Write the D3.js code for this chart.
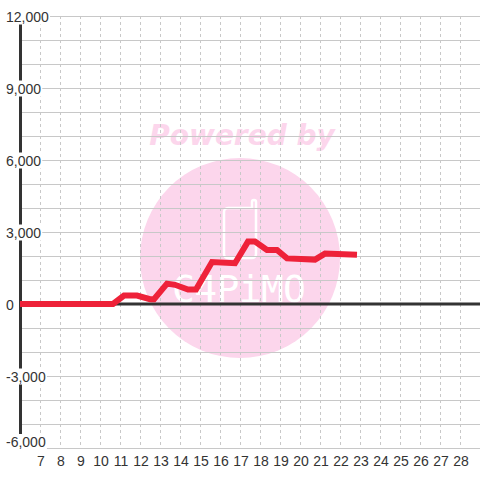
<!DOCTYPE html>
<html>
<head>
<meta charset="utf-8">
<script src="https://cdn.jsdelivr.net/npm/d3@7"></script>
<style>
  body { margin: 0; background: #fff; }
  text { font-family: "Liberation Sans", Arial, sans-serif; }
</style>
</head>
<body>
<div id="chart"></div>
<script>
// series: day position (fractional) and value
var days = [6, 10.65, 11.2, 11.85, 12.5, 12.7, 13.35, 13.75, 14.4, 14.8, 15.6, 16.75, 17.4, 17.75, 18.35, 18.85, 19.35, 20.75, 21.25, 22.85];
var values = [0, 0, 350, 350, 200, 200, 850, 800, 600, 600, 1750, 1700, 2600, 2600, 2250, 2250, 1900, 1850, 2100, 2050];

// ticks
var xTicks = d3.range(7, 29);            // 7..28 labelled
var xGrid = d3.range(7, 30);             // dashed grid up to right edge
var yTicks = [12000, 9000, 6000, 3000, 0, -3000, -6000];
var yGrid = d3.range(-6000, 12001, 1000);

var width = 480, height = 480;

var svg = d3.select("#chart").append("svg")
  .attr("width", width)
  .attr("height", height);

var x = d3.scaleLinear().domain([6, 29]).range([20, 480]);
var y = d3.scaleLinear().domain([-6000, 12000]).range([448, 16]);

//watermark
var wm = svg.append("g");
wm.append("circle")
  .attr("cx", 240).attr("cy", 258).attr("r", 100)
  .attr("fill", "#fcd6ec");
wm.append("text")
  .attr("x", 242).attr("y", 145)
  .attr("text-anchor", "middle")
  .style("font-family", "DejaVu Sans")
  .style("font-weight", "bold")
  .style("font-style", "italic")
  .style("font-size", "28px")
  .attr("fill", "#fcd6ec")
  .text("Powered by");
// phone shape
wm.append("path")
  .attr("d", "M228,208 h24 v-6 a2,2 0 0 1 4,0 v52 a4,4 0 0 1 -4,4 h-24 a4,4 0 0 1 -4,-4 v-42 a4,4 0 0 1 4,-4 z")
  .attr("fill", "none")
  .attr("stroke", "#fff")
  .attr("stroke-width", 2.5);
wm.append("text")
  .attr("x", 239).attr("y", 302)
  .attr("text-anchor", "middle")
  .style("font-family", "DejaVu Sans Mono")
  .style("font-size", "38px")
  .attr("fill", "#fff")
  .attr("textLength", 134)
  .text("C4PiMO");

//grid
svg.append("g").selectAll("line")
  .data(yGrid)
  .enter().append("line")
  .attr("x1", 20).attr("x2", 480)
  .attr("y1", function(d) { return y(d) + 0.5; })
  .attr("y2", function(d) { return y(d) + 0.5; })
  .attr("stroke", "#c8c8c8")
  .attr("stroke-width", 1);

svg.append("g").selectAll("line")
  .data(xGrid)
  .enter().append("line")
  .attr("x1", function(d) { return x(d) + 0.5; })
  .attr("x2", function(d) { return x(d) + 0.5; })
  .attr("y1", 16).attr("y2", 448)
  .attr("stroke", "#c8c8c8")
  .attr("stroke-width", 1)
  .attr("stroke-dasharray", "3,3");

// zero line and y axis
svg.append("line")
  .attr("x1", 20).attr("x2", 480)
  .attr("y1", y(0)).attr("y2", y(0))
  .attr("stroke", "#333")
  .attr("stroke-width", 3);
svg.append("line")
  .attr("x1", 20.5).attr("x2", 20.5)
  .attr("y1", 16).attr("y2", 448)
  .attr("stroke", "#333")
  .attr("stroke-width", 3);

// y labels with white backing
var ylab = svg.append("g").selectAll("g")
  .data(yTicks)
  .enter().append("g");
ylab.append("text")
  .attr("x", 6)
  .attr("y", function(d) { return Math.min(y(d) + 5.5, 447); })
  .style("font-size", "14px")
  .attr("fill", "#333")
  .text(function(d) { return d3.format(",")(d).replace("\u2212", "-"); });
ylab.each(function() {
  var g = d3.select(this);
  var b = g.select("text").node().getBBox();
  g.insert("rect", "text")
    .attr("x", b.x - 1).attr("y", b.y)
    .attr("width", b.width + 2).attr("height", b.height)
    .attr("fill", "#fff");
});

// x labels
svg.append("g").selectAll("text")
  .data(xTicks)
  .enter().append("text")
  .attr("x", function(d) { return x(d) + 1; })
  .attr("y", 466)
  .attr("text-anchor", "middle")
  .style("font-size", "14px")
  .attr("fill", "#333")
  .text(function(d) { return d; });

// the series
var line = d3.line()
  .x(function(d, i) { return x(days[i]); })
  .y(function(d) { return y(d); });

svg.append("path")
  .datum(values)
  .attr("d", line)
  .attr("fill", "none")
  .attr("stroke", "#ee2239")
  .attr("stroke-width", 6)
  .attr("stroke-linejoin", "miter");
</script>
</body>
</html>
